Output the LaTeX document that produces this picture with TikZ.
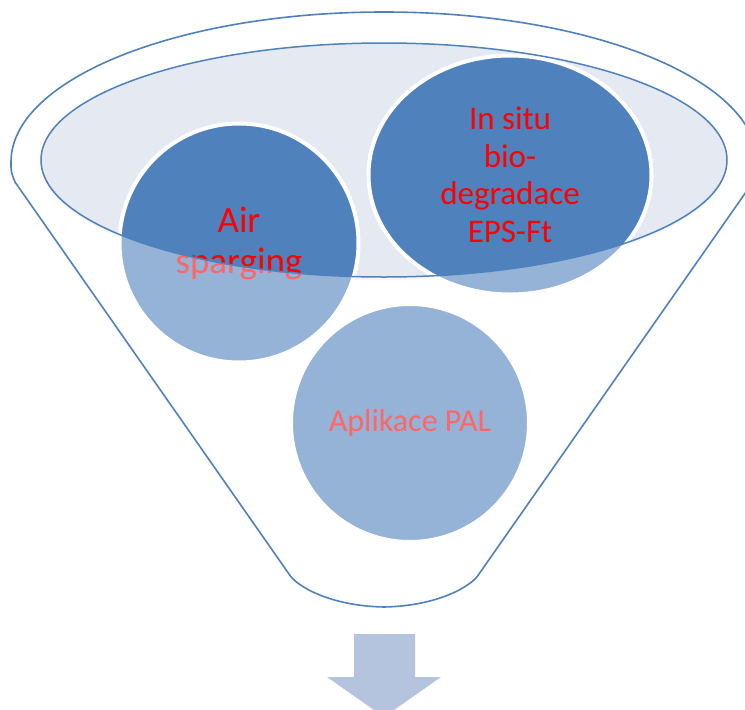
\documentclass[tikz,border=0pt]{standalone}
\usepackage{fontspec}
\setmainfont{Carlito}
\usetikzlibrary{shapes.geometric}

\definecolor{funnelblue}{RGB}{79,129,189}
\definecolor{rimfill}{RGB}{228,233,242}
\definecolor{arrowblue}{RGB}{180,196,222}

\begin{document}
\begin{tikzpicture}[x=1pt,y=-1pt,
  bubble/.style={fill=funnelblue,draw=white,line width=4pt,inner sep=0pt,
    text=red,align=center},
  outline/.style={draw=funnelblue,line width=1.6pt}]
\useasboundingbox (0,0) rectangle (745,710);

% top of the funnel
\fill[rimfill!55] (384,163) ellipse [x radius=343, y radius=117];
\fill[rimfill] (384,160) ellipse [x radius=343, y radius=117];

% the three bubbles
\node[bubble,circle,minimum size=239pt,font=\fontsize{37}{41}\selectfont] (air) at (239,243) {Air\\sparging};
\node[bubble,ellipse,minimum width=283pt,minimum height=239pt,font=\fontsize{33}{37.5}\selectfont] (insitu) at (510,175) {In situ\\bio-\\degradace\\EPS-Ft};
\node[bubble,circle,minimum size=238pt,font=\fontsize{32}{38}\selectfont] (pal) at (410,423) {Aplikace PAL};

% glass of the funnel body
\fill[white,opacity=0.4,even odd rule] (11,162) arc [start angle=180, end angle=360, x radius=373, y radius=150]
  .. controls (757,172) .. (753,182) -- (479,574)
  .. controls (472,586) and (438,606) .. (384,607)
  .. controls (330,606) and (296,586) .. (289,574) -- (15,182)
  .. controls (11,172) .. cycle
  (384,160) ellipse [x radius=343, y radius=117];

\draw[outline] (11,162) arc [start angle=180, end angle=360, x radius=373, y radius=150]
  .. controls (757,172) .. (753,182) -- (479,574)
  .. controls (472,586) and (438,606) .. (384,607)
  .. controls (330,606) and (296,586) .. (289,574) -- (15,182)
  .. controls (11,172) .. cycle;
\draw[outline,line width=1.5pt] (384,160) ellipse [x radius=343, y radius=117];

% arrow out of the funnel
\fill[arrowblue] (354,634) -- (415,634) -- (415,677) -- (441,677) -- (384,717)
  -- (327,677) -- (354,677) -- cycle;
\end{tikzpicture}
\end{document}
